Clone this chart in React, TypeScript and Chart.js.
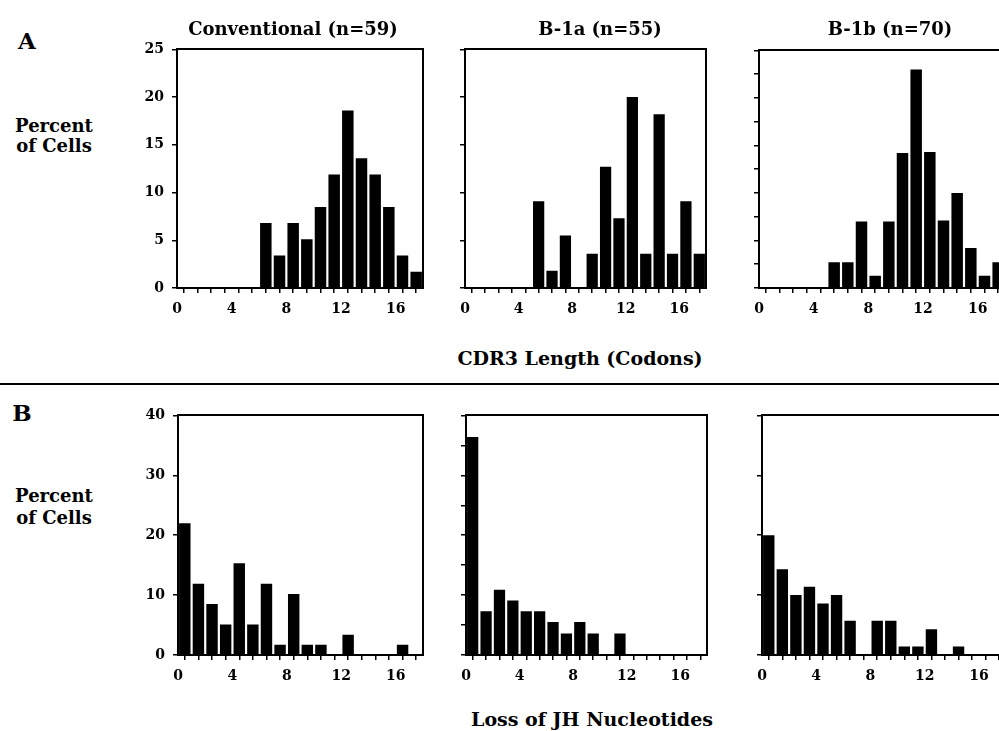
import React, { useEffect, useRef } from "react";
import { Chart, registerables } from "chart.js";

Chart.register(...registerables);

// ---- data -------------------------------------------------------------
const bins = [0, 1, 2, 3, 4, 5, 6, 7, 8, 9, 10, 11, 12, 13, 14, 15, 16, 17];

// Panel A: CDR3 length (codons), percent of cells
const conventionalCdr3 = [0, 0, 0, 0, 0, 0, 6.8, 3.4, 6.8, 5.1, 8.5, 11.9, 18.6, 13.6, 11.9, 8.5, 3.4, 1.7];
const b1aCdr3 = [0, 0, 0, 0, 0, 9.1, 1.8, 5.5, 0, 3.6, 12.7, 7.3, 20.0, 3.6, 18.2, 3.6, 9.1, 3.6];
const b1bCdr3 = [0, 0, 0, 0, 0, 2.7, 2.7, 7.0, 1.3, 7.0, 14.2, 23.0, 14.3, 7.1, 10.0, 4.2, 1.3, 2.7];

// Panel B: loss of JH nucleotides, percent of cells
const conventionalJh = [22.0, 11.9, 8.5, 5.1, 15.3, 5.1, 11.9, 1.7, 10.2, 1.7, 1.7, 0, 3.4, 0, 0, 0, 1.7, 0];
const b1aJh = [36.4, 7.3, 10.9, 9.1, 7.3, 7.3, 5.5, 3.6, 5.5, 3.6, 0, 3.6, 0, 0, 0, 0, 0, 0];
const b1bJh = [20.0, 14.3, 10.0, 11.4, 8.6, 10.0, 5.7, 0, 5.7, 5.7, 1.4, 1.4, 4.3, 0, 1.4, 0, 0, 0];

const xTickLabels = [0, 4, 8, 12, 16];
const cdr3YTickLabels = [0, 5, 10, 15, 20, 25];
const jhYTickLabels = [0, 10, 20, 30, 40];

const panelTitles = ["Conventional (n=59)", "B-1a (n=55)", "B-1b (n=70)"];

// ---- layout constants ---------------------------------------------------
const YW = 44; // width reserved for y axis
const XH = 44; // height reserved for x axis
const PT = 12; // top padding
const PR = 6; // right padding
const FONT = "'DejaVu Serif', serif";

type PanelProps = {
  values: number[];
  left: number;
  top: number;
  width: number;
  height: number;
  yMax: number;
  yStep: number;
  yLabels: number[] | null;
};

function Panel({ values, left, top, width, height, yMax, yStep, yLabels }: PanelProps) {
  const ref = useRef<HTMLCanvasElement>(null);
  useEffect(() => {
    const tickFont = { family: FONT, weight: "bold" as const, size: 14 };
    const borderOpt = { display: true, color: "#000", width: 2 };
    const chart = new Chart(ref.current as HTMLCanvasElement, {
      type: "bar",
      data: {
        datasets: [
          {
            data: bins.map((b, i) => ({ x: b + 0.5, y: values[i] })),
            backgroundColor: "#000",
            borderWidth: 0,
            barPercentage: 0.84,
            categoryPercentage: 1,
          },
        ],
      },
      options: {
        animation: false,
        responsive: false,
        maintainAspectRatio: false,
        layout: { padding: { top: PT, right: PR, left: 0, bottom: 0 } },
        plugins: { legend: { display: false }, tooltip: { enabled: false }, title: { display: false } },
        scales: {
          x: {
            type: "linear",
            position: "bottom",
            min: 0,
            max: 18,
            offset: false,
            ticks: {
              stepSize: 1,
              autoSkip: false,
              maxRotation: 0,
              padding: 8,
              color: "#000",
              font: tickFont,
              callback: (v: any) => (xTickLabels.includes(Number(v)) ? String(v) : ""),
            },
            grid: { display: true, drawOnChartArea: false, drawTicks: true, tickLength: 5, color: "#000", lineWidth: 1.5 },
            border: borderOpt,
            afterFit: (s: any) => {
              s.height = XH;
            },
          },
          y: {
            type: "linear",
            position: "left",
            min: 0,
            max: yMax,
            ticks: {
              stepSize: yStep,
              autoSkip: false,
              padding: 8,
              color: "#000",
              font: tickFont,
              callback: (v: any) => (yLabels && yLabels.includes(Number(v)) ? String(v) : ""),
            },
            grid: { display: true, drawOnChartArea: false, drawTicks: true, tickLength: 5, color: "#000", lineWidth: 1.5 },
            border: borderOpt,
            afterFit: (s: any) => {
              s.width = YW;
            },
          },
          xTop: {
            type: "linear",
            position: "top",
            min: 0,
            max: 18,
            ticks: { display: false },
            grid: { display: false },
            border: borderOpt,
            afterFit: (s: any) => {
              s.height = 0;
            },
          },
          yRight: {
            type: "linear",
            position: "right",
            min: 0,
            max: yMax,
            ticks: { display: false },
            grid: { display: false },
            border: borderOpt,
            afterFit: (s: any) => {
              s.width = 0;
            },
          },
        },
      } as any,
    });
    return () => chart.destroy();
  }, []);
  const cw = YW + width + PR;
  const ch = PT + height + XH;
  return (
    <canvas
      ref={ref}
      width={cw}
      height={ch}
      style={{ position: "absolute", left: left - YW, top: top - PT, width: cw, height: ch }}
    />
  );
}

function Label({ x, y, size, children, lh }: { x: number; y: number; size: number; children: React.ReactNode; lh?: number }) {
  return (
    <div
      style={{
        position: "absolute",
        left: x,
        top: y,
        transform: "translate(-50%, -50%)",
        fontFamily: FONT,
        fontWeight: "bold",
        fontSize: size,
        lineHeight: lh ? `${lh}px` : "normal",
        whiteSpace: "nowrap",
        textAlign: "center",
        color: "#000",
      }}
    >
      {children}
    </div>
  );
}

export default function App() {
  const aTop = 45;
  const aH = 243;
  const bTop = 411;
  const bH = 244;
  return (
    <div style={{ position: "absolute", left: 0, top: 0, width: 999, height: 731, overflow: "hidden", background: "#fff" }}>
      <Panel values={conventionalCdr3} left={177} top={aTop} width={248} height={aH} yMax={25} yStep={5} yLabels={cdr3YTickLabels} />
      <Panel values={b1aCdr3} left={465} top={aTop} width={243} height={aH} yMax={25} yStep={5} yLabels={null} />
      <Panel values={b1bCdr3} left={759} top={aTop + 1} width={248} height={aH - 1} yMax={25} yStep={2.5} yLabels={null} />

      <Panel values={conventionalJh} left={178} top={bTop} width={247} height={bH} yMax={40} yStep={10} yLabels={jhYTickLabels} />
      <Panel values={b1aJh} left={466} top={bTop} width={243} height={bH} yMax={40} yStep={5} yLabels={null} />
      <Panel values={b1bJh} left={762} top={bTop} width={246} height={bH} yMax={40} yStep={10} yLabels={null} />

      <Label x={293} y={28} size={18}>{panelTitles[0]}</Label>
      <Label x={600} y={28} size={18}>{panelTitles[1]}</Label>
      <Label x={890} y={28} size={18}>{panelTitles[2]}</Label>

      <Label x={27} y={40} size={23}>A</Label>
      <Label x={22} y={412} size={23}>B</Label>

      <Label x={54} y={136} size={18} lh={20}>
        Percent
        <br />
        of Cells
      </Label>
      <Label x={54} y={507} size={18} lh={22}>
        Percent
        <br />
        of Cells
      </Label>

      <Label x={580} y={358} size={19}>CDR3 Length (Codons)</Label>
      <Label x={592} y={719} size={19}>Loss of JH Nucleotides</Label>

      <div style={{ position: "absolute", left: 0, top: 383, width: 999, height: 2, background: "#000" }} />
    </div>
  );
}
